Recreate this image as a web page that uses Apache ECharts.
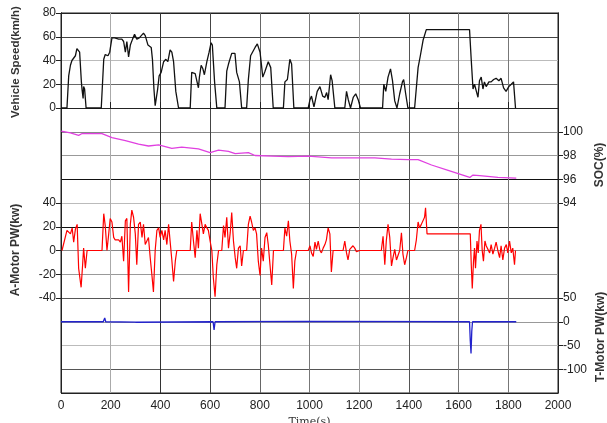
<!DOCTYPE html>
<html>
<head>
<meta charset="utf-8">
<script src="https://cdn.jsdelivr.net/npm/echarts@6/dist/echarts.min.js"></script>
<style>
  html, body { margin: 0; padding: 0; background: #fff; }
  #box { width: 607px; height: 423px; }
</style>
</head>
<body>
<div id="box"></div>
<script>
// time ticks (s)
var timeTicks = [0, 200, 400, 600, 800, 1000, 1200, 1400, 1600, 1800, 2000];
var speedTicks = [0, 20, 40, 60, 80];
var socTicks = [94, 96, 98, 100];
var aMotorTicks = [-40, -20, 0, 20, 40];
var tMotorTicks = [-100, -50, 0, 50];

// [time(s), km/h]
var speedPts = [[0,0],[24,0],[31,27],[38,36],[44,40],[51,41],[58,44],[64,50],[71,50],[75,47],[82,22],[85,15],[87,14],[89,8],[91,18],[95,16],[101,0],
  [162,0],[172,41],[178,45],[189,44],[196,47],[205,59],[216,59],[232,58],[245,58],[252,56],[259,47],[265,56],[272,43],[279,53],[288,58],[296,62],[305,58],[315,59],[323,60],[332,63],[339,61],[350,53],[363,51],[368,41],[374,16],[379,2],[383,1],[389,16],[395,27],[403,30],[413,39],[422,41],[430,39],[439,49],[446,47],[453,39],[462,14],[473,0],
  [520,0],[526,30],[533,29],[540,29],[546,30],[553,17],[557,26],[564,36],[571,33],[577,28],[587,39],[596,47],[604,55],[609,53],[618,22],[627,0],
  [660,0],[667,31],[674,37],[687,46],[694,47],[700,46],[707,30],[718,22],[727,0],[747,0],[754,24],[763,44],[781,51],[790,54],[801,47],[812,26],[821,31],[834,39],[844,34],[854,0],
  [895,0],[901,22],[911,24],[921,41],[928,37],[937,0],[995,0],[1002,7],[1008,10],[1018,1],[1026,9],[1031,14],[1042,18],[1053,10],[1062,9],[1069,13],[1075,7],[1085,28],[1091,23],[1102,0],
  [1142,0],[1149,14],[1156,7],[1165,0],[1176,9],[1186,12],[1196,7],[1205,0],[1294,0],[1299,20],[1307,14],[1316,26],[1326,33],[1334,23],[1343,6],[1352,0],[1363,12],[1374,22],[1379,24],[1387,12],[1396,0],
  [1423,0],[1437,34],[1446,44],[1457,57],[1470,66],[1644,66],[1651,40],[1658,16],[1664,20],[1671,19],[1678,9],[1684,23],[1691,26],[1698,16],[1704,22],[1711,18],[1722,22],[1731,22],[1741,24],[1751,25],[1762,23],[1771,25],[1781,17],[1791,14],[1802,18],[1812,20],[1821,22],[1829,0]];

// [time(s), %]
var socPts = [[1,100.05],[38,99.9],[71,99.7],[85,99.85],[165,99.85],[205,99.5],[259,99.25],[312,98.95],[352,98.8],[393,98.9],[446,98.6],[486,98.7],[553,98.55],[600,98.25],[634,98.45],[674,98.35],[701,98.15],[754,98.25],[781,98.0],[848,97.95],[915,97.9],[995,97.95],[1089,97.8],[1183,97.8],[1263,97.8],[1330,97.7],[1397,97.65],[1437,97.65],[1491,97.2],[1558,96.75],[1645,96.15],[1658,96.35],[1685,96.3],[1758,96.15],[1832,96.1]];

// [time(s), kW]
var aMotorPts = [[4,0],[24,17],[31,18],[38,14],[45,19],[51,7],[58,18],[65,22],[71,-15],[81,-31],[87,-12],[91,2],[98,-15],[105,0],
  [165,0],[172,31],[178,21],[185,0],[192,14],[198,27],[205,24],[212,11],[218,9],[225,8],[232,9],[239,7],[245,12],[252,-9],[259,25],[265,27],[272,-35],[279,22],[285,34],[292,28],[299,14],[305,-12],[312,22],[319,24],[326,11],[332,22],[339,5],[346,4],[352,11],[359,-6],[366,-21],[372,-35],[379,0],[386,17],[393,19],[399,11],[406,17],[413,9],[419,17],[426,5],[433,22],[439,8],[446,-8],[453,-26],[460,-9],[466,0],
  [520,0],[526,24],[533,8],[540,-6],[547,17],[553,2],[560,31],[567,22],[573,14],[580,22],[587,19],[593,17],[600,8],[607,0],[613,-23],[620,-39],[627,-12],[634,0],
  [647,0],[654,21],[660,11],[667,28],[674,2],[681,15],[687,32],[694,8],[701,-6],[707,-15],[714,2],[721,4],[727,-13],[734,0],
  [747,0],[754,22],[761,29],[767,24],[774,17],[781,19],[787,14],[794,-9],[801,-21],[807,2],[814,-9],[821,11],[828,15],[834,5],[841,-12],[848,-29],[855,0],
  [895,0],[901,19],[908,12],[915,25],[921,8],[928,-3],[935,-32],[941,-9],[948,0],
  [995,0],[1002,4],[1008,-2],[1015,-5],[1022,7],[1028,1],[1035,8],[1042,0],[1048,-2],[1055,2],[1062,5],[1068,9],[1075,19],[1082,14],[1088,-18],[1095,0],
  [1135,0],[1142,8],[1149,-2],[1155,-8],[1162,1],[1169,0],[1175,4],[1182,2],[1189,-1],[1196,-2],[1202,0],
  [1289,0],[1296,12],[1303,-12],[1309,8],[1316,22],[1323,11],[1330,-13],[1336,-6],[1343,1],[1350,-8],[1356,-9],[1363,0],[1370,15],[1376,-3],[1383,-12],[1390,-6],[1396,0],
  [1423,0],[1430,9],[1437,24],[1443,19],[1450,22],[1457,21],[1463,28],[1467,36],[1473,14],[1647,14],[1651,-12],[1655,-32],[1660,-9],[1664,2],[1668,-15],[1674,8],[1679,-2],[1684,17],[1690,22],[1695,0],[1700,-9],[1706,8],[1711,4],[1718,5],[1725,-2],[1731,5],[1738,-3],[1745,2],[1751,7],[1758,0],[1765,-6],[1771,4],[1778,-8],[1785,2],[1792,5],[1798,-2],[1805,8],[1812,-2],[1818,2],[1825,-12],[1829,0]];

// [time(s), kW]
var tMotorPts = [[0,0],[170,0],[176,8],[180,0],[300,-1],[305,0],[612,0],[616,-17],[620,0],[1000,1],[1005,0],[1644,0],[1647,-40],[1650,-67],[1653,-20],[1656,0],[1832,0]];

var hLineColors = ['#222', '#555', '#bbb', '#999', '#555', '#999', '#888', '#111', '#bbb', '#111', '#999', '#888', '#888', '#666', '#bbb', '#444', '#222'];
var vLineColors = ['#222', '#aaa', '#333', '#444', '#666', '#777', '#999', '#555', '#777', '#777', '#222'];

var labelFont = { color: '#222', fontSize: 12, fontFamily: 'Liberation Sans' };

function plain(v) {
    return String(v);
}

function sideAxis(pos, min, max, step, ticks) {
    return {
        type: 'value',
        position: pos,
        min: min,
        max: max,
        interval: step,
        axisLine: { show: true, lineStyle: { color: '#222' } },
        axisTick: { show: true, customValues: ticks, length: 5, lineStyle: { color: '#222' } },
        axisLabel: Object.assign({ customValues: ticks, margin: 5, formatter: plain }, labelFont),
        splitLine: { show: false }
    };
}

var myChart = echarts.init(document.getElementById('box'));
myChart.setOption({
    animation: false,
    grid: {
        left: 61, right: 49, top: 13, bottom: 30,
        outerBoundsMode: 'none',
        containLabel: false,
        show: true, borderColor: '#222', borderWidth: 1
    },
    xAxis: {
        type: 'value',
        min: 0, max: 2000, interval: 200,
        name: 'Time(s)',
        nameLocation: 'middle',
        nameGap: 21,
        nameTextStyle: { color: '#333', fontSize: 11, fontFamily: 'DejaVu Serif' },
        axisLine: { lineStyle: { color: '#222' } },
        axisTick: { inside: true, length: 6, lineStyle: { color: '#222' } },
        axisLabel: Object.assign({ margin: 7, formatter: plain }, labelFont),
        splitLine: { show: true, lineStyle: { color: vLineColors, width: 1 } }
    },
    yAxis: [
        sideAxis('left', -240, 80, 20, speedTicks),
        sideAxis('right', 78, 110, 2, socTicks),
        sideAxis('left', -120, 200, 20, aMotorTicks),
        sideAxis('right', -150, 650, 50, tMotorTicks),
        {
            // grid lines only
            type: 'value', position: 'left', min: 0, max: 16, interval: 1,
            axisLine: { show: false }, axisTick: { show: false }, axisLabel: { show: false },
            splitLine: { show: true, lineStyle: { color: hLineColors, width: 1 } }
        }
    ],
    series: [
        {
            name: 'Vehicle Speed', type: 'line', yAxisIndex: 0, data: speedPts,
            symbol: 'none', lineStyle: { color: '#111', width: 1.3 }
        },
        {
            name: 'SOC', type: 'line', yAxisIndex: 1, data: socPts,
            symbol: 'none', lineStyle: { color: '#e040e0', width: 1.3 }
        },
        {
            name: 'A-Motor PW', type: 'line', yAxisIndex: 2, data: aMotorPts,
            symbol: 'none', lineStyle: { color: '#ff0000', width: 1.2 }
        },
        {
            name: 'T-Motor PW', type: 'line', yAxisIndex: 3, data: tMotorPts,
            symbol: 'none', lineStyle: { color: '#2222cc', width: 1.3 }
        }
    ],
    graphic: [
        { type: 'text', x: 16, y: 62, rotation: Math.PI / 2,
          style: { text: 'Vehicle Speed(km/h)', fill: '#333', font: 'bold 11.5px Liberation Sans', textAlign: 'center', textVerticalAlign: 'middle' } },
        { type: 'text', x: 16, y: 250, rotation: Math.PI / 2,
          style: { text: 'A-Motor PW(kw)', fill: '#333', font: 'bold 12px Liberation Sans', textAlign: 'center', textVerticalAlign: 'middle' } },
        { type: 'text', x: 600, y: 165, rotation: Math.PI / 2,
          style: { text: 'SOC(%)', fill: '#333', font: 'bold 12px Liberation Sans', textAlign: 'center', textVerticalAlign: 'middle' } },
        { type: 'text', x: 601, y: 337, rotation: Math.PI / 2,
          style: { text: 'T-Motor PW(kw)', fill: '#333', font: 'bold 12px Liberation Sans', textAlign: 'center', textVerticalAlign: 'middle' } }
    ]
});
window.addEventListener('resize', function () {
    myChart.resize();
});
</script>
</body>
</html>
